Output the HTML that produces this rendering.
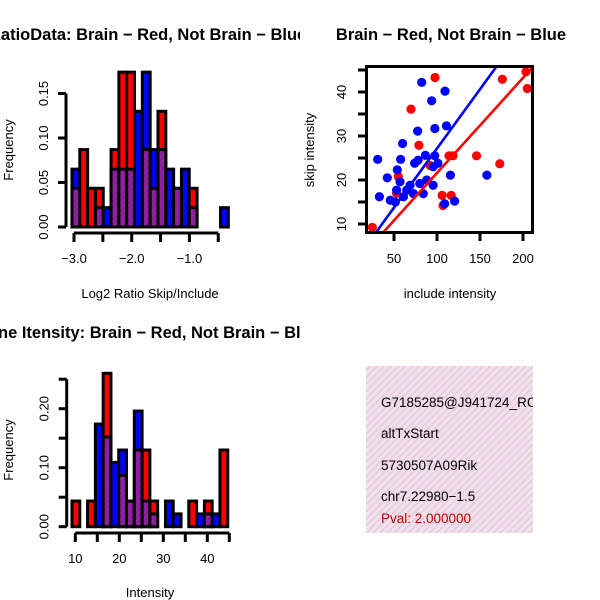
<!DOCTYPE html>
<html><head><meta charset="utf-8"><style>
body{margin:0;background:#fff}
svg{display:block;font-family:"Liberation Sans",sans-serif}
</style></head><body>
<svg id="c" width="600" height="600" viewBox="0 0 600 600" xmlns="http://www.w3.org/2000/svg">
<defs>
<pattern id="hatch" width="4" height="4" patternUnits="userSpaceOnUse" patternTransform="rotate(45)">
<rect width="4" height="4" fill="#9a10b0"/><rect width="1.5" height="4" fill="#7a3a80"/></pattern>
<pattern id="pinkhatch" width="5" height="5" patternUnits="userSpaceOnUse" patternTransform="rotate(45)">
<rect width="5" height="5" fill="#f8dcf3"/><rect width="1.3" height="5" fill="#d6d4c4"/></pattern>
<clipPath id="clipText"><rect x="366" y="366" width="167" height="167"/></clipPath>
<clipPath id="clipBox"><rect x="366" y="66" width="167" height="167"/></clipPath>
<clipPath id="clipLeft"><rect x="0" y="0" width="300" height="600"/></clipPath>
</defs>
<g id="g1"></g>
<g id="g2"></g>
<g id="g3"></g>
<g>
<rect x="366" y="366" width="167" height="167" fill="url(#pinkhatch)"/>
<g clip-path="url(#clipText)" font-size="13.5">
<text x="381" y="407">G7185285@J941724_RC</text>
<text x="381" y="438">altTxStart</text>
<text x="381" y="470">5730507A09Rik</text>
<text x="381" y="501">chr7.22980−1.5</text>
<text x="381" y="523" fill="#c00000">Pval: 2.000000</text>
</g></g>
</svg>
<script>
// ratio histogram data (frequency per bin)
const ratioBreakStart = -3.035;
const ratioBinWidth = 0.1355;
const ratioRed = [0.0435,0.087,0.0435,0.0435,0,0.087,0.174,0.174,0,0.087,0.0435,0.13,0,0.0435,0,0.0435,0,0,0,0];
const ratioBlue = [0.065,0,0,0.0217,0.0217,0.065,0.065,0.065,0.13,0.174,0.087,0.087,0.065,0.0435,0.065,0.0217,0,0,0,0.0217];
const ratioXTicks = [-3.0,-2.5,-2.0,-1.5,-1.0,-0.5];
const ratioXLabels = ["−3.0","","−2.0","","−1.0",""];
const ratioYTicks = [0,0.05,0.10,0.15];
const ratioYLabels = ["0.00","0.05","0.10","0.15"];
// intensity histogram data
const intBreakStart = 9.25;
const intBinWidth = 1.77;
const intRed = [0.0435,0,0.0435,0,0.26,0,0.087,0.0435,0.13,0.13,0.0435,0,0,0,0,0.0435,0,0.0435,0,0.13];
const intBlue = [0,0,0,0.174,0.152,0.109,0.13,0.0435,0.196,0.0435,0.0217,0,0.0435,0.0217,0,0,0.0217,0.0217,0.0217,0];
const intXTicks = [10,15,20,25,30,35,40,45];
const intXLabels = ["10","","20","","30","","40",""];
const intYTicks = [0,0.05,0.10,0.15,0.20,0.25];
const intYLabels = ["0.00","","0.10","","0.20",""];
// scatter data
const redX = [24.8,97.7,69.8,176,203.5,205,79,114,118.6,146,173,106,116.5,107,55,53,92];
const redY = [9.25,43.3,36.1,42.9,44.6,40.8,27.9,25.5,25.5,25.5,23.7,16.5,16.5,14.2,20.8,17,23.3];
const blueX = [31,82.2,109.3,93.8,77.5,97.5,111,60,42.2,33,57.7,78,86.5,97.4,101,95.5,53.8,115.6,158,95.5,88,80,68.7,57,64.8,53,45.7,51.6,61,72.6,84,108.9,120.5,74];
const blueY = [24.7,42.2,40.2,38,31.1,31.7,32.3,28.3,20.5,16.2,24.7,24.5,25.6,25.5,23.8,23,22.3,21.1,21.1,18.8,20,19.2,18.8,19.6,17.7,17.7,15.4,15,16.2,16.9,16.9,14.6,15.2,23.8];
const redLine = [0.0, 0.216];
const blueLine = [0.27, 0.269];
const scXTicks = [50,100,150,200];
const scYTicks = [10,15,20,25,30,35,40,45];
const scYLabels = ["10","","20","","30","","40",""];

const NS="http://www.w3.org/2000/svg";
function mk(parent,tag,attrs){const e=document.createElementNS(NS,tag);for(const k in attrs)e.setAttribute(k,attrs[k]);parent.appendChild(e);return e;}

function histogram(g,o){
  const xs=v=>o.x0px+(v-o.x0)*o.xk, ys=v=>o.y0px-v*o.yk;
  for(let i=0;i<o.red.length;i++){
    const l=xs(o.bs+i*o.bw), w=o.bw*o.xk;
    const r=o.red[i], b=o.blue[i], mx=Math.max(r,b), mn=Math.min(r,b);
    if(mx>0){
      const e=mk(g,'rect',{x:l,y:ys(mx),width:w,height:ys(0)-ys(mx),fill:r>=b?'#ff0000':'#0000ff',stroke:'#000','stroke-width':3});
      
      
    }
    if(mn>0){
      const e=mk(g,'rect',{x:l,y:ys(mn),width:w,height:ys(0)-ys(mn),fill:'url(#hatch)',stroke:'#000','stroke-width':3});
      
      
    }
  }
  const yt=o.yticks;
  const ya=mk(g,'line',{x1:o.yax,x2:o.yax,y1:ys(yt[0]),y2:ys(yt[yt.length-1]),stroke:'#000','stroke-width':3});
  
  
  yt.forEach((t,i)=>{
    mk(g,'line',{x1:o.yax-8,x2:o.yax,y1:ys(t),y2:ys(t),stroke:'#000','stroke-width':3});
    if(o.ylabels[i]){const tx=mk(g,'text',{x:0,y:0,'font-size':13,'text-anchor':'middle',transform:`translate(${o.yax-18},${ys(t)}) rotate(-90)`});tx.textContent=o.ylabels[i];
      
      }
  });
  const xt=o.xticks;
  const xa=mk(g,'line',{x1:xs(xt[0]),x2:xs(xt[xt.length-1]),y1:o.xay,y2:o.xay,stroke:'#000','stroke-width':3});
  
  
  xt.forEach((t,i)=>{
    mk(g,'line',{x1:xs(t),x2:xs(t),y1:o.xay,y2:o.xay+9,stroke:'#000','stroke-width':3});
    if(o.xlabels[i]){const tx=mk(g,'text',{x:xs(t),y:o.xay+30,'font-size':13,'text-anchor':'middle'});tx.textContent=o.xlabels[i];
      
      }
  });
}
const g1=document.getElementById('g1'), g2=document.getElementById('g2'), g3=document.getElementById('g3');
histogram(g1,{red:ratioRed,blue:ratioBlue,bs:ratioBreakStart,bw:ratioBinWidth,x0:-3,x0px:74,xk:57.7,y0px:227,yk:890,yax:66,xay:233,xticks:ratioXTicks,xlabels:ratioXLabels,yticks:ratioYTicks,ylabels:ratioYLabels});
histogram(g3,{red:intRed,blue:intBlue,bs:intBreakStart,bw:intBinWidth,x0:10,x0px:75.3,xk:4.4,y0px:526.7,yk:590,yax:66.7,xay:533,xticks:intXTicks,xlabels:intXLabels,yticks:intYTicks,ylabels:intYLabels});

function txt(g,x,y,s,attrs,name){const t=mk(g,'text',Object.assign({x:x,y:y,'font-size':13,'text-anchor':'middle'},attrs||{}));t.textContent=s;
  
  }
const c1=mk(g1,'g',{'clip-path':'url(#clipLeft)'});
txt(c1,-11,40,'RatioData: Brain − Red, Not Brain − Blue',{'font-size':16.5,'font-weight':'bold','text-anchor':'start'},'chart-title');
txt(g1,150,298,'Log2 Ratio Skip/Include',{},'x-axis-title');
txt(g1,0,0,'Frequency',{transform:'translate(13,150) rotate(-90)'},'y-axis-title');
const c3=mk(g3,'g',{'clip-path':'url(#clipLeft)'});
txt(c3,-24,338,'Gene Itensity: Brain − Red, Not Brain − Blue',{'font-size':16.5,'font-weight':'bold','text-anchor':'start'},'chart-title');
txt(g3,150,597,'Intensity',{},'x-axis-title');
txt(g3,0,0,'Frequency',{transform:'translate(13,450) rotate(-90)'},'y-axis-title');
txt(g2,451,40,'Brain − Red, Not Brain − Blue',{'font-size':16.5,'font-weight':'bold'},'chart-title');
txt(g2,450,298,'include intensity',{},'x-axis-title');
txt(g2,0,0,'skip intensity',{transform:'translate(314,150) rotate(-90)'},'y-axis-title');

const sx=v=>394+(v-50)*0.86, sy=v=>224-(v-10)*4.4;
const pts=mk(g2,'g',{'clip-path':'url(#clipBox)'});
redX.forEach((x,i)=>{const c=mk(pts,'circle',{cx:sx(x),cy:sy(redY[i]),r:4.6,fill:'#ff0000'});
  
  });
blueX.forEach((x,i)=>{const c=mk(pts,'circle',{cx:sx(x),cy:sy(blueY[i]),r:4.6,fill:'#0000ff'});
  
  });
[[blueLine,'#0000ff','regression-line-blue'],[redLine,'#ff0000','regression-line-red']].forEach(([L,col,nm])=>{
  const l=mk(pts,'line',{x1:sx(0),y1:sy(L[0]),x2:sx(260),y2:sy(L[0]+L[1]*260),stroke:col,'stroke-width':2.6});
  
  
});
const box=mk(g2,'rect',{x:366.5,y:66.5,width:166,height:166,fill:'none',stroke:'#000','stroke-width':3});


scXTicks.forEach(t=>{mk(g2,'line',{x1:sx(t),x2:sx(t),y1:233,y2:241,stroke:'#000','stroke-width':3});
  const tx=mk(g2,'text',{x:sx(t),y:263,'font-size':13,'text-anchor':'middle'});tx.textContent=String(t);
  
  });
scYTicks.forEach((t,i)=>{mk(g2,'line',{x1:358,x2:366,y1:sy(t),y2:sy(t),stroke:'#000','stroke-width':3});
  if(scYLabels[i]){const tx=mk(g2,'text',{x:0,y:0,'font-size':13,'text-anchor':'middle',transform:`translate(346,${sy(t)}) rotate(-90)`});tx.textContent=scYLabels[i];
  
  }});
</script>
</body></html>
